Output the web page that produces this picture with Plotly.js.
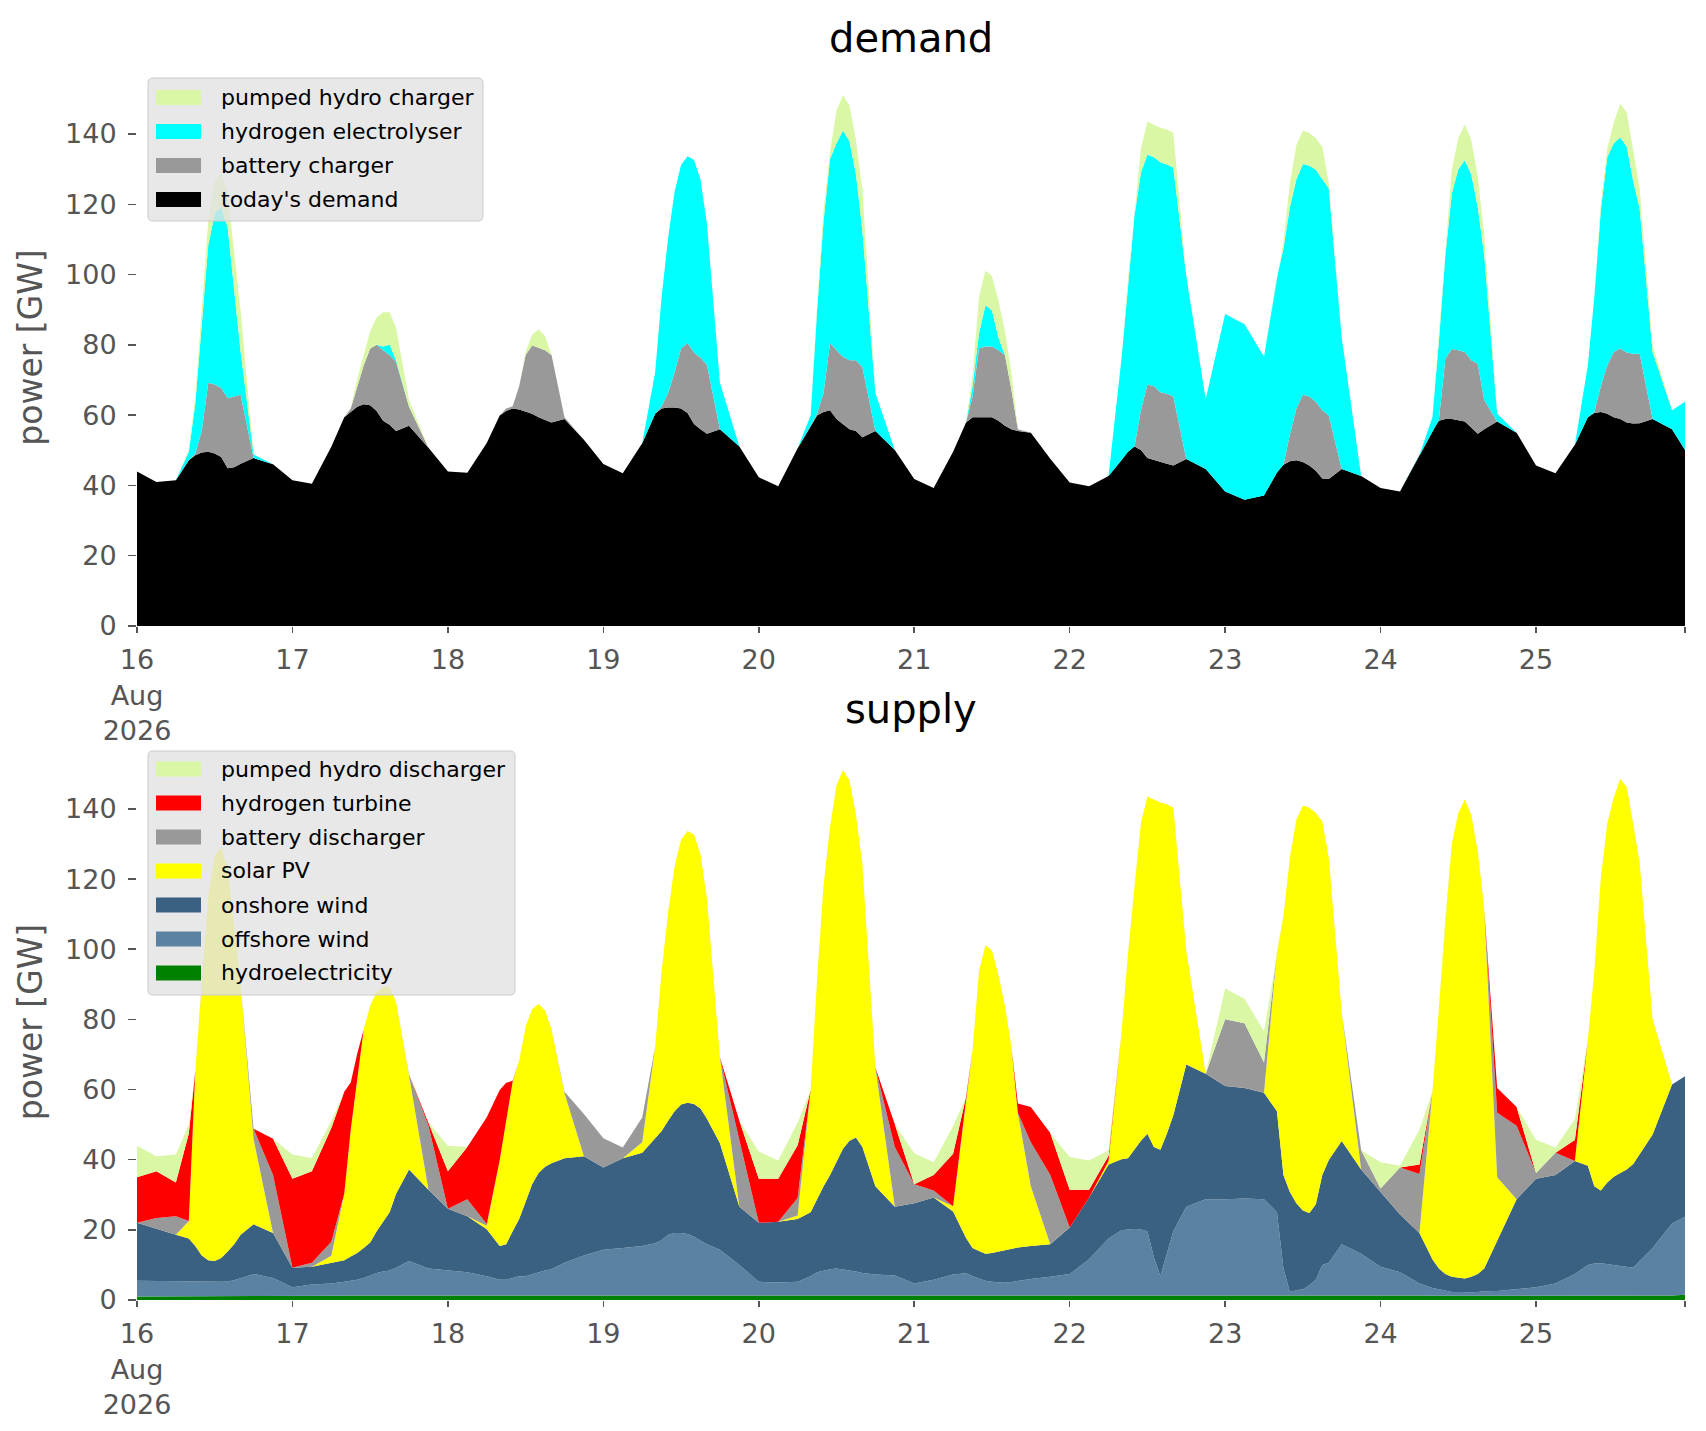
<!DOCTYPE html>
<html>
<head>
<meta charset="utf-8">
<script src="https://cdn.plot.ly/plotly-3.0.1.min.js"></script>
<style>
  html, body { margin: 0; padding: 0; background: #ffffff; }
  #chart { width: 1706px; height: 1431px; }
</style>
</head>
<body>
<div id="chart"></div>
<script>
// ---- time axis: sampled hours per day, 16 Aug .. 25 Aug, plus 25 Aug 23:00 ----
const days = [16, 17, 18, 19, 20, 21, 22, 23, 24, 25];
const hours = [0, 3, 6, 8, 9, 10, 11, 12, 13, 14, 15, 16, 18, 21];
const lastTime = '2026-08-25 23:00';

// ---- tick labels ----
const tickDays = ['2026-08-16', '2026-08-17', '2026-08-18', '2026-08-19', '2026-08-20',
                  '2026-08-21', '2026-08-22', '2026-08-23', '2026-08-24', '2026-08-25'];
const tickLabels = ['16<br>Aug<br>2026', '17', '18', '19', '20', '21', '22', '23', '24', '25'];
const yTicks = [0, 20, 40, 60, 80, 100, 120, 140];

// ---- demand side (GW); one row per day ----
const todaysDemand = [
  44, 41, 41.5, 47.2, 48.6, 49.4, 49.6, 49.1, 48.1, 44.9, 45.2, 46.2, 47.8, 46,
  41.5, 40.5, 51, 59.4, 60.9, 62.4, 63.1, 62.8, 61.2, 58.4, 57.3, 55.5, 57, 50.7,
  44, 43.6, 52.1, 59.9, 61.2, 61.9, 61.6, 60.9, 60.4, 59.4, 58.6, 57.9, 58.9, 53,
  46.1, 43.5, 52, 60.4, 61.9, 62.2, 62.2, 61.9, 60.6, 57.5, 56, 54.7, 56, 51.1,
  42.3, 39.8, 50.6, 57, 59.9, 60.9, 61.4, 58.9, 57.5, 56, 55.5, 53.7, 55.5, 50.1,
  41.8, 39.3, 49.6, 57.9, 59.4, 59.4, 59.4, 59.4, 58.4, 57, 56, 55.5, 55, 47.6,
  40.8, 39.8, 42.7, 47.2, 49.6, 51.1, 50.1, 47.8, 47.2, 46.7, 46.2, 45.7, 47.5, 44.7,
  38.3, 35.9, 37.1, 43.7, 45.9, 46.9, 47.2, 46.7, 45.7, 44.2, 42, 41.8, 44.7, 42.7,
  39.3, 38.3, 48.6, 55.5, 58.4, 58.9, 58.9, 58.6, 58.2, 56.5, 54.7, 56, 58.2, 55,
  45.7, 43.5, 51.6, 59.4, 60.6, 60.9, 60.4, 59.4, 58.9, 57.9, 57.6, 57.7, 58.9, 56, 50.1
];
const batteryCharger = [
  0, 0, 0, 0, 0.5, 6.1, 19.6, 19.6, 19.6, 19.9, 20.1, 19.6, 0, 0,
  0, 0, 0, 0, 1, 5.8, 11, 16.2, 18.8, 20.1, 19.8, 19.6, 5.4, 0,
  0, 0, 0, 0, 0.7, 0.6, 6.6, 16.2, 19.4, 19.8, 19.9, 19.2, 0.5, 0,
  0, 0, 0, 0, 0.6, 4.1, 10, 17.1, 19.9, 20.3, 20.3, 19.6, 0, 0,
  0, 0, 0, 0, 0.5, 5.4, 19.1, 19.6, 19.1, 19.6, 20.1, 19.9, 0, 0,
  0, 0, 0, 0, 5.9, 19.6, 20.1, 20.1, 20.1, 20.1, 11.3, 0.5, 0, 0,
  0, 0, 0, 0, 0, 0, 11.3, 20.9, 21, 19.8, 19.9, 19.6, 0, 0,
  0, 0, 0, 0, 0, 7.6, 14.7, 19.1, 19.6, 19.6, 19.4, 18.1, 0, 0,
  0, 0, 0, 0, 0.2, 17.2, 19.9, 19.9, 19.8, 19.1, 19.9, 8.3, 0, 0,
  0, 0, 0, 0, 0.3, 7.3, 13.7, 18.6, 20.1, 19.9, 19.9, 19.8, 0, 0, 0
];
const hydrogenElectrolyser = [
  0, 0, 0, 2.4, 14.2, 31.4, 39.2, 48.6, 51.5, 48.5, 30.7, 12.2, 1, 0,
  0, 0, 0, 0, 0, 0, 0, 0, 0, 1, 2.9, 0.5, 0, 0,
  0, 0, 0, 0, 0, 0, 0, 0, 0, 0, 0, 0, 0, 0,
  0, 0, 0, 11.8, 31.2, 44.1, 51.4, 52.2, 53.2, 54.8, 50.8, 40, 13.2, 0,
  0, 0, 0, 2.9, 29.4, 49, 52.4, 58.9, 64.4, 62.4, 52.9, 38.8, 10.8, 0,
  0, 0, 0, 0, 2.9, 4.4, 11.8, 10.3, 3.5, 0, 0, 0, 0, 0,
  0, 0, 0, 28.9, 48, 65.7, 67.6, 65.4, 65.2, 65.5, 65.2, 65.2, 52.1, 19.8,
  50.5, 50, 39.5, 55.4, 61.5, 64.7, 65.2, 65.7, 65.7, 66, 65.7, 64.7, 37.3, 0,
  0, 0, 0, 3.9, 22.4, 29.4, 44.3, 51.5, 54.5, 52.9, 44.6, 41.2, 2.2, 0,
  0, 0, 0, 14.7, 32.8, 50, 59.3, 59.4, 60, 58.6, 49.1, 41.2, 19.1, 5.4, 13.7
];
const pumpedHydroCharger = [
  0, 0, 0, 0.5, 2, 2.9, 6.9, 9.3, 9.8, 9.8, 10, 11.8, 0, 0,
  0, 0, 0, 0, 0.1, 2, 3, 4.9, 7.8, 9.8, 9.3, 9.3, 1.9, 0,
  0, 0, 0, 0, 0, 0, 0, 0.9, 3.1, 5.2, 4, 0, 0, 0,
  0, 0, 0, 0, 0, 0, 0, 0, 0, 0, 0, 0, 0, 0,
  0, 0, 0, 0, 1.5, 2.9, 2, 9.3, 10.1, 10.1, 9.8, 11.7, 0, 0,
  0, 0, 0, 0, 3, 10.3, 9.8, 9.8, 10.7, 6.8, 4.9, 0, 0, 0,
  0, 0, 0, 0, 1, 0.9, 6.9, 9.4, 9.3, 9.8, 10, 9.8, 0, 0,
  0, 0, 0, 0, 2, 6.9, 9.8, 9.5, 9.3, 9, 9.3, 1.5, 0, 0,
  0, 0, 0, 0, 2, 3, 6.9, 8.8, 10.2, 9.8, 8.8, 5.9, 0, 0,
  0, 0, 0, 0, 0, 2, 2.5, 5.8, 9.6, 9.8, 9.3, 5.9, 2, 0, 0
];

// ---- supply side (GW); one row per day ----
const hydroelectricity = [
  1, 1, 1, 1, 1, 1, 1, 1, 1, 1, 1, 1, 1, 1,
  1.2, 1.2, 1.2, 1.2, 1.3, 1.3, 1.3, 1.3, 1.4, 1.4, 1.5, 1.5, 1.5, 1.5,
  1.5, 1.5, 1.5, 1.5, 1.5, 1.5, 1.5, 1.5, 1.5, 1.5, 1.5, 1.5, 1.5, 1.5,
  1.5, 1.5, 1.5, 1.5, 1.5, 1.5, 1.5, 1.5, 1.5, 1.5, 1.5, 1.5, 1.5, 1.5,
  1.5, 1.5, 1.5, 1.5, 1.5, 1.5, 1.5, 1.5, 1.5, 1.5, 1.5, 1.5, 1.5, 1.5,
  1.5, 1.5, 1.5, 1.5, 1.5, 1.5, 1.5, 1.5, 1.5, 1.5, 1.5, 1.5, 1.5, 1.5,
  1.5, 1.5, 1.5, 1.5, 1.5, 1.5, 1.5, 1.5, 1.5, 1.5, 1.5, 1.5, 1.5, 1.5,
  1.5, 1.5, 1.5, 1.5, 1.5, 1.5, 1.5, 1.3, 1.3, 1.3, 1.3, 1.3, 1.3, 1.3,
  1.3, 1.3, 1.3, 1.2, 1.2, 1.2, 1.2, 1.2, 1.2, 1.2, 1.2, 1.2, 1.2, 1.2,
  1.2, 1.2, 1.2, 1.2, 1.2, 1.2, 1.2, 1.2, 1.2, 1.2, 1.2, 1.2, 1.2, 1.3, 1.5
];
const offshoreWind = [
  4.5, 4.4, 4.5, 4.3, 4.4, 4.3, 4.2, 4.2, 4.2, 4.3, 4.6, 5.2, 6.4, 5.3,
  2.4, 3.2, 3.5, 4, 4.1, 4.5, 5, 5.7, 6.3, 6.7, 6.9, 7.7, 9.6, 7.5,
  6.9, 6.4, 5.3, 4.3, 4.3, 4.8, 5.3, 5.3, 5.9, 6.4, 6.9, 7.3, 9.1, 11.2,
  12.8, 13.3, 13.9, 14.7, 15.5, 17.1, 17.6, 17.6, 17.3, 16.5, 15.5, 14.4, 12.8, 8.5,
  3.7, 3.5, 3.7, 5.3, 6.4, 6.9, 7.3, 7.5, 7.3, 6.9, 6.6, 6.2, 5.8, 5.5,
  3.2, 4.3, 5.8, 6.1, 5.3, 4.6, 4, 3.7, 3.5, 3.4, 3.6, 3.9, 4.5, 5.1,
  5.9, 10.1, 16, 18.4, 18.6, 18.5, 18.6, 18.1, 10.7, 5.3, 11.7, 18.1, 25.1, 27.2,
  27.2, 27.4, 27.2, 23.5, 7.5, 0.8, 1.3, 1.8, 2.9, 4.5, 8.7, 9.3, 14.6, 11.9,
  8.2, 6.6, 3.4, 2.2, 1.9, 1.4, 1.1, 1.1, 1, 1, 1.1, 1.3, 1.4, 1.9,
  2.4, 3.5, 6.2, 8.8, 9.2, 9.3, 9, 8.8, 8.5, 8.2, 8, 9.9, 13.6, 20.5, 22.2
];
const onshoreWind = [
  16.5, 14.8, 13.1, 12.2, 10, 7.4, 6.1, 5.9, 6.8, 8.5, 10.3, 12.4, 14.2, 12.8,
  5.6, 5.1, 5.9, 6.1, 7, 7.6, 8.5, 9.4, 11.9, 14.2, 16.6, 21.1, 26.1, 22.4,
  17.6, 16, 13.4, 9.6, 10.1, 13.3, 16.3, 21.2, 25.6, 28.3, 29.6, 30.2, 29.8, 28.3,
  23.5, 25.6, 26.6, 29.9, 31.2, 32.5, 34.7, 36.6, 37.4, 37.9, 37.6, 35.8, 30.4, 16.6,
  16.8, 17.3, 17.9, 18.2, 20.8, 24, 26.8, 30.3, 34.3, 37, 38.2, 35.9, 25.1, 19.6,
  22.9, 23.4, 17.9, 10.1, 8, 7.9, 7.7, 8.2, 8.8, 9.2, 9.6, 9.6, 9.4, 9.3,
  13.3, 17.6, 21.1, 20.2, 20.3, 22.9, 25.3, 27.8, 31.4, 36, 34.2, 33.1, 40.5, 35.8,
  32.3, 31.5, 30.4, 28.8, 26.6, 28.5, 24.8, 22.4, 20.6, 21.5, 25.6, 29.3, 29.4, 24,
  21.3, 16.5, 14.4, 8.2, 5.9, 4.8, 4.3, 4, 3.9, 4.4, 5.1, 6.5, 14.4, 25.6,
  31, 30.9, 32.2, 28.3, 22, 20.7, 23.3, 25.1, 26.5, 27.8, 29.6, 30.4, 32.4, 39.6, 40.1
];
const solarPV = [
  0, 0, 0, 5, 49.9, 77.1, 104, 115.5, 117, 109.3, 90.1, 71.2, 24.2, 0,
  0, 0, 2, 19, 36.1, 50, 62.3, 67.5, 68.2, 67, 64.3, 54.6, 26.8, 0,
  0, 0, 1, 24.5, 34.7, 42.7, 45.1, 50, 49.9, 48.2, 44.5, 38.1, 18.6, 0,
  0, 0, 3, 26.1, 45.5, 59.3, 69.8, 75.5, 77.5, 76.7, 72.5, 62.6, 24.5, 0,
  0, 0, 1, 34.9, 62.6, 85.8, 99.3, 107.4, 108, 102.7, 92, 80.5, 33.9, 0,
  0, 0, 1.5, 39.3, 56.4, 79.7, 87.9, 86.2, 78.9, 69.8, 57.5, 38.3, 17, 0,
  0, 0, 1, 36, 58.2, 74.8, 90.5, 96.1, 99.1, 99, 93.9, 87.6, 32.5, 0,
  0, 0, 0, 45.3, 73.8, 95.3, 109.3, 115.5, 115.5, 111.5, 100.8, 86.2, 36.7, 0,
  0, 0, 0, 47.8, 74, 101.1, 123.4, 132.5, 136.6, 131.7, 120.6, 102.4, 18, 0,
  0, 0, 0, 35.8, 61.3, 89, 102.4, 108.1, 112.4, 109, 97.1, 83.1, 32.8, 0, 0
];
const batteryDischarger = [
  0, 3.2, 5.3, 0, 0, 0, 0, 0, 0, 0, 0, 0, 3, 16.5,
  0, 1.1, 4, 0, 0, 0, 0, 0, 0, 0, 0, 0, 0.3, 18.3,
  0, 4.8, 0.5, 0, 0, 0, 0, 0, 0, 0, 0, 0, 0.4, 12,
  8.3, 3.1, 7, 0, 0, 0, 0, 0, 0, 0, 0, 0, 0, 19,
  0, 0, 5, 0, 0, 0, 0, 0, 0, 0, 0, 0, 0, 17,
  5.4, 2, 0, 0, 0, 0, 0, 0, 0, 0, 0, 0, 12.6, 19.7,
  0, 0, 0, 0, 0, 0, 0, 0, 0, 0, 0, 0, 0, 0,
  19, 18.5, 8.6, 0, 0, 0, 0, 0, 0, 0, 0, 0, 0, 5.5,
  1, 13.4, 16.8, 0, 0, 0, 0, 0, 0, 0, 0, 0, 18.4, 21,
  1.6, 6.4, 0, 0, 0, 0, 0, 0, 0, 0, 0, 0, 0, 0, 0
];
const hydrogenTurbine = [
  13, 13.3, 9.6, 25, 0, 0, 0, 0, 0, 0, 0, 0, 0, 10.4,
  25.4, 26.1, 32.4, 29.1, 13.5, 6.8, 0, 0, 0, 0, 0, 0, 0, 1,
  10.7, 14.9, 30.4, 20, 11.3, 0.2, 0, 0, 0, 0, 0, 0, 0, 0,
  0, 0, 0, 0, 0, 0, 0, 0, 0, 0, 0, 0, 0, 5.5,
  12.6, 12.3, 15, 0, 0, 0, 0, 0, 0, 0, 0, 0, 0, 6.5,
  0, 4.4, 15, 0.9, 0, 0, 0, 0, 0, 0, 0, 2.7, 10, 12,
  10.7, 2.2, 1.5, 0, 0, 0, 0, 0, 0, 0, 0, 0, 0, 0,
  0, 0, 0, 0, 0, 0, 0, 0, 0, 0, 0, 0, 0, 0,
  0, 0, 2.7, 0, 0, 0, 0, 0, 0, 0, 0, 0, 7, 5.3,
  0, 0, 6, 0, 0, 0, 0, 0, 0, 0, 0, 0, 0, 0, 0
];
const pumpedHydroDischarger = [
  9, 4.3, 8, 2.6, 0, 0, 0, 0, 0, 0, 0, 0, 0, 0,
  6.9, 3.8, 2, 0, 0, 0, 0, 0, 0, 0, 0, 0, 0, 0,
  7.3, 0, 0, 0, 0, 0, 0, 0, 0, 0, 0, 0, 0, 0,
  0, 0, 0, 0, 0, 0, 0, 0, 0, 0, 0, 0, 0, 0,
  7.7, 5.2, 6.5, 0, 0, 0, 0, 0, 0, 0, 0, 0, 0, 0,
  8.8, 3.7, 7.9, 0, 0, 0, 0, 0, 0, 0, 0, 0, 0, 0,
  9.4, 8.4, 1.6, 0, 0, 0, 0, 0, 0, 0, 0, 0, 0, 0,
  8.8, 7, 8.9, 0, 0, 0, 0, 0, 0, 0, 0, 0, 0, 0,
  7.5, 0.5, 10, 0, 0, 0, 0, 0, 0, 0, 0, 0, 0, 0,
  9.5, 1.5, 6, 0, 0, 0, 0, 0, 0, 0, 0, 0, 0, 0, 0
];

// ---- build time stamps ----
const times = [];
days.forEach(d => hours.forEach(h => {
  times.push('2026-08-' + String(d).padStart(2, '0') + ' ' + String(h).padStart(2, '0') + ':00');
}));
times.push(lastTime);

const FONT = 'DejaVu Sans, Liberation Sans, sans-serif';

const C = {
  ph: '#daf7a6', h2e: '#00ffff', bat: '#999999', dem: '#000000',
  h2t: '#ff0000', solar: '#ffff00', on: '#3b6182', off: '#5b82a3', hydro: '#008000'
};

function area(name, y, color, xa, ya, group) {
  return {
    type: 'scatter', mode: 'lines', name: name, x: times, y: y,
    xaxis: xa, yaxis: ya, stackgroup: group, showlegend: false,
    line: { width: 0, color: color, shape: 'linear' },
    fillcolor: color, hoverinfo: 'skip'
  };
}

const demandSeries = [
  ["today's demand", todaysDemand, C.dem],
  ['battery charger', batteryCharger, C.bat],
  ['hydrogen electrolyser', hydrogenElectrolyser, C.h2e],
  ['pumped hydro charger', pumpedHydroCharger, C.ph]
];
const supplySeries = [
  ['hydroelectricity', hydroelectricity, C.hydro],
  ['offshore wind', offshoreWind, C.off],
  ['onshore wind', onshoreWind, C.on],
  ['solar PV', solarPV, C.solar],
  ['battery discharger', batteryDischarger, C.bat],
  ['hydrogen turbine', hydrogenTurbine, C.h2t],
  ['pumped hydro discharger', pumpedHydroDischarger, C.ph]
];

const data = [];
demandSeries.forEach(s => data.push(area(s[0], s[1], s[2], 'x', 'y', 'dem')));
supplySeries.forEach(s => data.push(area(s[0], s[1], s[2], 'x2', 'y2', 'sup')));

const tickVals = tickDays.concat([lastTime]);
const tickText = tickLabels.concat(['']);

function xAxis(anchor) {
  return {
    anchor: anchor, domain: [0, 1], type: 'date',
    range: ['2026-08-16 00:00', lastTime],
    tickmode: 'array', tickvals: tickVals, ticktext: tickText,
    ticks: 'outside', ticklen: 6, tickwidth: 1.5, tickcolor: '#555555',
    tickfont: { family: FONT, size: 27, color: '#555555' },
    ticklabelstandoff: 4,
    showgrid: false, zeroline: false, showline: false
  };
}
function yAxis(anchor, domain) {
  return {
    anchor: anchor, domain: domain, range: [0, 158.5],
    tickmode: 'array', tickvals: yTicks,
    ticks: 'outside', ticklen: 8, tickwidth: 1.5, tickcolor: '#555555',
    tickfont: { family: FONT, size: 27, color: '#555555' },
    ticklabelstandoff: 6,
    title: { text: 'power [GW]', font: { family: FONT, size: 33, color: '#555555' }, standoff: 12 },
    showgrid: false, zeroline: false, showline: false
  };
}

// ---- hand-drawn legends (matplotlib-style filled swatches) ----
const M = { l: 137, r: 21, t: 69, b: 131 };
const W = 1706, H = 1431;
const pw = W - M.l - M.r, ph = H - M.t - M.b;
const px = v => (v - M.l) / pw;
const py = v => (H - M.b - v) / ph;

function roundRect(x0, y0, x1, y1, r) {
  const P = (x, y) => px(x).toFixed(5) + ',' + py(y).toFixed(5);
  return 'M' + P(x0 + r, y0) + ' L' + P(x1 - r, y0) + ' Q' + P(x1, y0) + ' ' + P(x1, y0 + r) +
         ' L' + P(x1, y1 - r) + ' Q' + P(x1, y1) + ' ' + P(x1 - r, y1) +
         ' L' + P(x0 + r, y1) + ' Q' + P(x0, y1) + ' ' + P(x0, y1 - r) +
         ' L' + P(x0, y0 + r) + ' Q' + P(x0, y0) + ' ' + P(x0 + r, y0) + ' Z';
}

const shapes = [];
const annotations = [];
function addLegend(items, box, firstRow, pitch) {
  shapes.push({ type: 'path', xref: 'paper', yref: 'paper', layer: 'above',
    path: roundRect(box[0], box[1], box[2], box[3], 5),
    fillcolor: 'rgba(226,226,226,0.8)', line: { color: '#cccccc', width: 1 } });
  items.forEach((it, i) => {
    const cy = firstRow + i * pitch;
    shapes.push({ type: 'rect', xref: 'paper', yref: 'paper', layer: 'above',
      x0: px(156), x1: px(201), y0: py(cy - 7.5), y1: py(cy + 7.5),
      fillcolor: it[2], line: { width: 0 } });
    annotations.push({ text: it[0], xref: 'paper', yref: 'paper',
      x: px(219), y: py(cy), xanchor: 'left', yanchor: 'middle', showarrow: false,
      font: { family: FONT, size: 22, color: '#000000' } });
  });
}
addLegend(demandSeries.slice().reverse(), [148, 78, 483, 221], 97.5, 34);
addLegend(supplySeries.slice().reverse(), [148, 751, 515, 995], 769, 34);

annotations.push(
  { text: 'demand', xref: 'paper', yref: 'paper', x: 0.5, y: py(38),
    xanchor: 'center', yanchor: 'middle', showarrow: false,
    font: { family: FONT, size: 40, color: '#000000' } },
  { text: 'supply', xref: 'paper', yref: 'paper', x: 0.5, y: py(709),
    xanchor: 'center', yanchor: 'middle', showarrow: false,
    font: { family: FONT, size: 40, color: '#000000' } }
);

const layout = {
  width: W, height: H,
  paper_bgcolor: '#ffffff', plot_bgcolor: '#ffffff',
  margin: { l: M.l, r: M.r, t: M.t, b: M.b, pad: 0 },
  font: { family: FONT },
  showlegend: false,
  xaxis: xAxis('y'),
  yaxis: yAxis('x', [py(626), 1]),
  xaxis2: xAxis('y2'),
  yaxis2: yAxis('x2', [0, py(744)]),
  shapes: shapes,
  annotations: annotations
};

Plotly.newPlot('chart', data, layout, { staticPlot: true, displayModeBar: false });
</script>
</body>
</html>
